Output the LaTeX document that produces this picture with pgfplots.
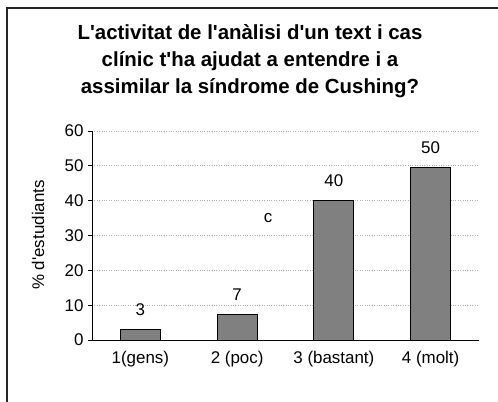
\documentclass[border=0pt]{standalone}
\usepackage{pgfplots}
\pgfplotsset{compat=1.18}
\usepackage{fontspec}
\setmainfont{Liberation Sans}
\newcommand{\q}{\textquotesingle}
\begin{document}
\begin{tikzpicture}[x=1bp,y=1bp]
\useasboundingbox (0,0) rectangle (498,401);
\draw[line width=2bp, black!85] (7,-5) -- (7,393) -- (510,393);
\node[font=\bfseries\fontsize{20.5}{27}\selectfont, align=center] at (250,340)
 {L\q activitat de l\q anàlisi d\q un text i cas\\clínic t\q ha ajudat a entendre i a\\assimilar la síndrome de Cushing?};
\node[rotate=90, font=\fontsize{17}{19}\selectfont] at (38,166) {\% d\q estudiants};
\begin{axis}[
  at={(92bp,61bp)}, anchor=south west,
  scale only axis, width=387bp, height=209bp,
  xmin=-0.5, xmax=3.5, ymin=0, ymax=60,
  axis x line*=bottom, axis y line*=left,
  axis line style={black, line width=1bp},
  separate axis lines,
  x axis line style={-}, y axis line style={-},
  ytick={0,10,...,60},
  xtick={0,1,2,3},
  xticklabels={1(gens),2 (poc),3 (bastant),4 (molt)},
  x tick style={draw=none},
  extra x ticks={-0.5,0.5,1.5,2.5,3.5},
  extra x tick labels={},
  extra x tick style={tick style={draw=black, line width=1bp}, major tick length=4bp, tick align=outside},
  y tick style={black, line width=1bp},
  major tick length=4bp, tick align=outside,
  ymajorgrids, grid style={dotted, gray!60, line width=0.8bp},
  tick label style={font=\fontsize{17}{19}\selectfont},
  yticklabel style={xshift=-1bp},
  xticklabel style={yshift=-4bp},
  /pgf/number format/assume math mode=true,
  ybar, bar width=40bp,
  point meta=explicit symbolic,
  nodes near coords,
  every node near coord/.append style={font=\fontsize{17}{19}\selectfont, yshift=10bp},
  clip=false,
]
\addplot[fill=black!50, draw=black, line width=1bp] table[meta=lab] {
x y lab
0 3 3
1 7.3 7
2 40 40
3 49.5 50
};
\node[font=\fontsize{17}{19}\selectfont] at (axis cs:1.32,35) {c};
\end{axis}
\end{tikzpicture}
\end{document}
